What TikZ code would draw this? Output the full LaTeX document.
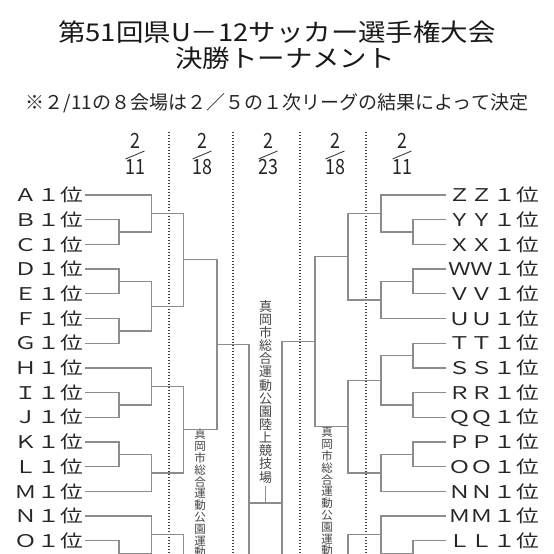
\documentclass[tikz,border=0pt]{standalone}
\usepackage{fontspec}
\setmainfont{Noto Sans CJK JP}
\newfontfamily\teamfont[FakeStretch=1.3]{Noto Sans CJK JP}
\newfontfamily\datefont[FakeStretch=0.85]{Noto Sans CJK JP}
\newfontfamily\titlefont[FakeStretch=1.12]{Noto Sans CJK JP}
\begin{document}
\begin{tikzpicture}[x=1pt,y=-1pt,
  team/.style={font=\teamfont\fontsize{17.5}{18}\selectfont,text=black!85,inner sep=2pt},
  bracket/.style={draw=black!45,line width=1.3pt},
  datesep/.style={draw=black!75,line width=1.3pt,dash pattern=on 1.2pt off 1.8pt},
  datenum/.style={font=\datefont\fontsize{21}{21}\selectfont,text=black!85,inner sep=0pt},
  fracbar/.style={draw=black!75,line width=0.9pt},
  venue/.style={text=black!72,align=center,inner sep=0pt},
  heading/.style={font=\titlefont\fontsize{24.5}{24.5}\selectfont,text=black!90,inner sep=0pt}]
\useasboundingbox (0,0) rectangle (554,554);
\fill[white] (0,0) rectangle (554,554);
\clip (0,0) rectangle (554,554);
% headings
\path node[heading] (title) at (277,32) {第51回県U－12サッカー選手権大会}
node[heading] (subtitle) at (285,58.5) {決勝トーナメント}
node[font=\fontsize{19}{19}\selectfont,text=black!85] (note) at (277,103) {※２/11の８会場は２／５の１次リーグの結果によって決定}
;
% dates
\path node[datenum] (d1n) at (135,141) {2}
node[datenum] (d1d) at (135,167) {11}
node[datenum] (d2n) at (202,141) {2}
node[datenum] (d2d) at (202,167) {18}
node[datenum] (d3n) at (268,141) {2}
node[datenum] (d3d) at (268,167) {23}
node[datenum] (d4n) at (335,141) {2}
node[datenum] (d4d) at (335,167) {18}
node[datenum] (d5n) at (402,141) {2}
node[datenum] (d5d) at (402,167) {11}
;
\draw[fracbar] (125.5,159) -- (144.5,151);
\draw[fracbar] (192.5,159) -- (211.5,151);
\draw[fracbar] (258.5,159) -- (277.5,151);
\draw[fracbar] (325.5,159) -- (344.5,151);
\draw[fracbar] (392.5,159) -- (411.5,151);
\draw[datesep] (169,132) -- (169,554);
\draw[datesep] (233,132) -- (233,554);
\draw[datesep] (300,132) -- (300,554);
\draw[datesep] (366,132) -- (366,554);
% left teams
\path node[team,anchor=east] (tA) at (85,195.0) {Ａ１位}
node[team,anchor=east] (tB) at (85,219.7) {Ｂ１位}
node[team,anchor=east] (tC) at (85,244.4) {Ｃ１位}
node[team,anchor=east] (tD) at (85,269.1) {Ｄ１位}
node[team,anchor=east] (tE) at (85,293.8) {Ｅ１位}
node[team,anchor=east] (tF) at (85,318.5) {Ｆ１位}
node[team,anchor=east] (tG) at (85,343.2) {Ｇ１位}
node[team,anchor=east] (tH) at (85,367.9) {Ｈ１位}
node[team,anchor=east] (tI) at (85,392.6) {Ｉ１位}
node[team,anchor=east] (tJ) at (85,417.3) {Ｊ１位}
node[team,anchor=east] (tK) at (85,442.0) {Ｋ１位}
node[team,anchor=east] (tL) at (85,466.7) {Ｌ１位}
node[team,anchor=east] (tM) at (85,491.4) {Ｍ１位}
node[team,anchor=east] (tN) at (85,516.1) {Ｎ１位}
node[team,anchor=east] (tO) at (85,540.8) {Ｏ１位}
coordinate (tP) at (85,565.5)
coordinate (m1) at (119,232.05)
coordinate (m2) at (151.5,213.5)
coordinate (m3) at (119,281.45)
coordinate (m4) at (119,330.85)
coordinate (m5) at (151.5,306.15)
coordinate (m6) at (183.5,259.8)
coordinate (m7) at (119,404.95)
coordinate (m8) at (151.5,386.4)
coordinate (m9) at (119,454.35)
coordinate (m10) at (151.5,472.9)
coordinate (m11) at (183.5,429.65)
coordinate (m12) at (217,344.7)
coordinate (m13) at (119,553.15)
coordinate (m14) at (151.5,534.6)
coordinate (m15) at (183.5,620)
coordinate (fL) at (249,620)
;
% right teams
\path node[team,anchor=west] (tZZ) at (446,195.0) {ＺＺ１位}
node[team,anchor=west] (tYY) at (446,219.7) {ＹＹ１位}
node[team,anchor=west] (tXX) at (446,244.4) {ＸＸ１位}
node[team,anchor=west] (tWW) at (446,269.1) {ＷＷ１位}
node[team,anchor=west] (tVV) at (446,293.8) {ＶＶ１位}
node[team,anchor=west] (tUU) at (446,318.5) {ＵＵ１位}
node[team,anchor=west] (tTT) at (446,343.2) {ＴＴ１位}
node[team,anchor=west] (tSS) at (446,367.9) {ＳＳ１位}
node[team,anchor=west] (tRR) at (446,392.6) {ＲＲ１位}
node[team,anchor=west] (tQQ) at (446,417.3) {ＱＱ１位}
node[team,anchor=west] (tPP) at (446,442.0) {ＰＰ１位}
node[team,anchor=west] (tOO) at (446,466.7) {ＯＯ１位}
node[team,anchor=west] (tNN) at (446,491.4) {ＮＮ１位}
node[team,anchor=west] (tMM) at (446,516.1) {ＭＭ１位}
node[team,anchor=west] (tLL) at (446,540.8) {ＬＬ１位}
coordinate (tKK) at (446,565.5)
coordinate (n1) at (413,232.05)
coordinate (n2) at (381,213.5)
coordinate (n3) at (413,281.45)
coordinate (n4) at (381,300)
coordinate (n5) at (348,256.75)
coordinate (n6) at (413,355.55)
coordinate (n7) at (413,404.95)
coordinate (n8) at (381,380.25)
coordinate (n9) at (413,454.35)
coordinate (n10) at (381,472.9)
coordinate (n11) at (348,426.6)
coordinate (n12) at (315,341.7)
coordinate (n13) at (413,553.15)
coordinate (n14) at (381,534.6)
coordinate (n15) at (348,620)
coordinate (fR) at (282,620)
coordinate (ch) at (265.5,503)
;
% venues
\path node[venue,font=\fontsize{13}{13.15}\selectfont,anchor=north,inner ysep=2.5pt] (venueF) at (265.5,297.5) {真\\岡\\市\\総\\合\\運\\動\\公\\園\\陸\\上\\競\\技\\場}
node[venue,font=\fontsize{11.5}{11.8}\selectfont,anchor=north] (venueL) at (200,429) {真\\岡\\市\\総\\合\\運\\動\\公\\園\\運\\動}
node[venue,font=\fontsize{11.5}{11.8}\selectfont,anchor=north] (venueR) at (327,427) {真\\岡\\市\\総\\合\\運\\動\\公\\園\\運\\動}
;
% left bracket
\draw[bracket] (tA.east) -| (m2);
\draw[bracket] (tB.east) -| (m1);
\draw[bracket] (tC.east) -| (m1);
\draw[bracket] (m1) -| (m2);
\draw[bracket] (tD.east) -| (m3);
\draw[bracket] (tE.east) -| (m3);
\draw[bracket] (tF.east) -| (m4);
\draw[bracket] (tG.east) -| (m4);
\draw[bracket] (m3) -| (m5);
\draw[bracket] (m4) -| (m5);
\draw[bracket] (m2) -| (m6);
\draw[bracket] (m5) -| (m6);
\draw[bracket] (tH.east) -| (m8);
\draw[bracket] (tI.east) -| (m7);
\draw[bracket] (tJ.east) -| (m7);
\draw[bracket] (m7) -| (m8);
\draw[bracket] (tK.east) -| (m9);
\draw[bracket] (tL.east) -| (m9);
\draw[bracket] (m9) -| (m10);
\draw[bracket] (tM.east) -| (m10);
\draw[bracket] (m8) -| (m11);
\draw[bracket] (m10) -| (m11);
\draw[bracket] (m6) -| (m12);
\draw[bracket] (m11) -| (m12);
\draw[bracket] (m12) -| (fL);
\draw[bracket] (tN.east) -| (m14);
\draw[bracket] (tO.east) -| (m13);
\draw[bracket] (tP) -| (m13);
\draw[bracket] (m13) -| (m14);
\draw[bracket] (m14) -| (m15);
% right bracket
\draw[bracket] (tZZ.west) -| (n2);
\draw[bracket] (tYY.west) -| (n1);
\draw[bracket] (tXX.west) -| (n1);
\draw[bracket] (n1) -| (n2);
\draw[bracket] (tWW.west) -| (n3);
\draw[bracket] (tVV.west) -| (n3);
\draw[bracket] (n3) -| (n4);
\draw[bracket] (tUU.west) -| (n4);
\draw[bracket] (n2) -| (n5);
\draw[bracket] (n4) -| (n5);
\draw[bracket] (tTT.west) -| (n6);
\draw[bracket] (tSS.west) -| (n6);
\draw[bracket] (tRR.west) -| (n7);
\draw[bracket] (tQQ.west) -| (n7);
\draw[bracket] (n6) -| (n8);
\draw[bracket] (n7) -| (n8);
\draw[bracket] (tPP.west) -| (n9);
\draw[bracket] (tOO.west) -| (n9);
\draw[bracket] (n9) -| (n10);
\draw[bracket] (tNN.west) -| (n10);
\draw[bracket] (n8) -| (n11);
\draw[bracket] (n10) -| (n11);
\draw[bracket] (n5) -| (n12);
\draw[bracket] (n11) -| (n12);
\draw[bracket] (n12) -| (fR);
\draw[bracket] (tMM.west) -| (n14);
\draw[bracket] (tLL.west) -| (n13);
\draw[bracket] (tKK) -| (n13);
\draw[bracket] (n13) -| (n14);
\draw[bracket] (n14) -| (n15);
% final
\draw[bracket] (fL |- ch) -- (fR |- ch);
\draw[bracket] (ch) -- (venueF.south);
\end{tikzpicture}
\end{document}
